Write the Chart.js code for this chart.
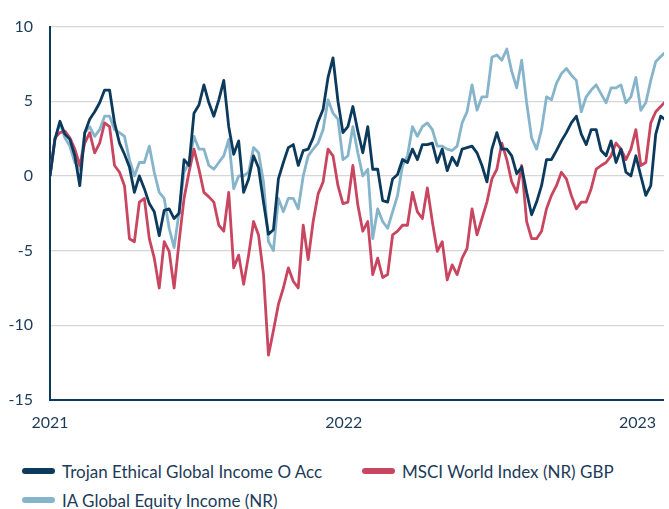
<!DOCTYPE html>
<html>
<head>
<meta charset="utf-8">
<title>Cumulative Performance</title>
<script src="https://cdn.jsdelivr.net/npm/chart.js"></script>
<style>
    body { margin: 0; background: #fff; font-family: Lato, sans-serif; }
    .wrap { position: relative; width: 669px; height: 509px; }
    .legend { position: absolute; left: 22px; top: 460px; display: grid; grid-template-columns: 340px auto; row-gap: 7px; color: #1c3b5a; font-size: 17px; }
    .item { display: flex; align-items: center; height: 22px; white-space: nowrap; }
    .swatch { width: 33px; height: 6px; border-radius: 3px; margin-right: 7px; }
</style>
</head>
<body>
<div class="wrap">
    <canvas id="perfChart" width="669" height="445"></canvas>
    <div class="legend" id="legend"></div>
</div>

<script>
    const seriesNames = ['Trojan Ethical Global Income O Acc', 'MSCI World Index (NR) GBP', 'IA Global Equity Income (NR)'];
    const seriesColors = ['#0b3a5d', '#c8465f', '#86b5cb'];

    // cumulative % return, one reading roughly every 6 days from 1 Jan 2021
    const trojan = [
        0.0, 2.45, 3.66, 2.8, 2.45, 1.35, -0.65, 2.9, 3.8, 4.3, 4.9, 5.75, 5.75, 3.55, 2.2, 1.45, 0.6, -1.1, 0.0, -0.85, -1.85, -2.4, -4.0, -2.3,
        -2.2, -2.85, -2.5, 1.1, 0.7, 4.2, 4.75, 6.1, 4.9, 4.0, 5.1, 6.4, 3.3, 1.45, 2.35, -1.1, -0.2, 1.35, 0.55, -1.75, -3.9, -3.6, -0.2, 0.9, 1.9,
        2.1, 0.7, 1.7, 1.8, 2.55, 3.65, 4.45, 6.6, 7.9, 5.0, 2.9, 3.3, 4.65, 3.0, 1.55, 3.3, 0.45, 0.45, -1.65, -1.75, -0.2, 0.1, 1.1, 0.9, 1.8,
        1.1, 2.1, 2.1, 2.2, 0.9, 1.8, 0.35, 1.25, 0.7, 1.8, 1.9, 2.0, 1.55, 0.7, -0.4, 1.8, 2.9, 1.8, 1.8, 1.35, 0.15, 0.6, -1.1, -2.6, -1.75,
        -0.65, 1.1, 1.1, 1.7, 2.35, 2.9, 3.55, 4.0, 2.8, 2.1, 3.1, 3.1, 1.7, 1.35, 2.35, 0.9, 1.8, 0.25, 0.0, 1.35, 0.0, -1.3, -0.65, 2.8, 4.0, 3.75
    ];
    const msci = [
        0.0, 2.55, 2.9, 3.0, 2.55, 1.8, 0.7, 2.2, 2.9, 1.55, 2.2, 3.55, 3.3, 0.7, 0.25, -0.65, -4.2, -4.4, -1.75, -1.5, -4.2, -5.5, -7.5, -4.4,
        -5.05, -7.5, -4.4, -1.5, 0.25, 1.8, 0.45, -1.1, -1.4, -1.75, -3.3, -3.7, -1.1, -6.15, -5.3, -7.25, -5.3, -3.05, -3.95, -6.6, -12.0, -10.35, -8.6, -7.5, -6.15,
        -7.05, -7.5, -3.3, -5.6, -3.05, -1.2, -0.4, 1.8, 1.35, -0.65, -1.85, -1.75, 0.7, -1.95, -3.7, -3.05, -6.6, -5.5, -6.8, -6.6, -3.95, -3.7, -3.3, -3.3, -1.1,
        -2.4, -2.85, -0.8, -3.05, -5.05, -4.4, -6.95, -5.95, -6.6, -5.5, -4.85, -2.2, -3.95, -2.85, -1.75, -0.2, 0.45, 2.2, 1.1, -0.4, -1.1, 0.7, -3.05, -4.2, -4.2,
        -3.7, -2.2, -1.3, -0.65, 0.25, -0.2, -1.3, -2.2, -1.75, -1.75, -0.85, 0.45, 0.7, 0.9, 1.35, 2.2, 1.8, 1.1, 1.8, 3.1, 0.7, 0.9, 3.55, 4.3, 4.65, 5.0
    ];
    const iaIncome = [
        0.0, 2.45, 3.55, 2.55, 2.0, 0.9, 0.45, 2.9, 3.3, 2.65, 3.1, 4.0, 4.0, 3.1, 2.9, 2.65, 1.1, 0.0, 0.9, 0.9, 2.0, 0.25, -1.1, -1.5,
        -3.5, -4.8, -2.4, 0.25, 0.9, 2.65, 1.8, 1.8, 0.7, 0.45, 0.9, 1.35, 2.45, -0.85, 0.0, 0.0, 0.25, 1.9, 1.55, -0.4, -4.4, -5.0, -1.5, -2.4, -1.5,
        -1.5, -2.2, 0.0, 1.35, 1.8, 2.2, 3.1, 5.1, 4.2, 3.8, 1.1, 1.35, 3.3, 1.55, 0.0, 0.45, -4.2, -2.2, -3.05, -3.5, -2.4, -1.3, 0.7, 1.35, 3.3,
        2.65, 3.3, 3.55, 3.1, 2.0, 2.0, 1.8, 1.7, 2.0, 3.55, 4.3, 6.1, 4.4, 5.3, 5.3, 7.95, 8.1, 7.75, 8.5, 7.0, 5.9, 7.75, 4.9, 2.55, 1.8,
        3.1, 5.3, 5.1, 6.2, 6.85, 7.2, 6.75, 6.4, 4.3, 5.3, 5.75, 6.1, 5.5, 4.9, 5.9, 5.9, 6.1, 4.9, 5.3, 6.6, 4.4, 4.9, 6.4, 7.65, 8.0, 8.3
    ];

    const yearLabels = ['2021', '2022', '2023'];
    const yearDays = [0, 365, 730];
    const dayStep = 6.17;
    const lastDay = 763;

    const textColor = '#1c3b5a';
    const axisColor = '#0b3a5d';

    function toPoints(values) {
        return values.map((v, i) => ({ x: i * dayStep, y: v }));
    }

    const allSeries = [trojan, msci, iaIncome];

    const ctx = document.getElementById('perfChart').getContext('2d');
    const chart = new Chart(ctx, {
        type: 'line',
        data: {
            datasets: allSeries.map((values, i) => ({
                label: seriesNames[i],
                data: toPoints(values),
                borderColor: seriesColors[i],
                backgroundColor: seriesColors[i],
                borderWidth: 2.8,
                borderJoinStyle: 'round',
                pointRadius: 0,
                tension: 0
            }))
        },
        options: {
            responsive: false,
            animation: false,
            devicePixelRatio: 1,
            layout: { padding: { top: 22, right: 0, bottom: 0, left: 0 } },
            plugins: {
                legend: { display: false },
                tooltip: { enabled: false }
            },
            scales: {
                x: {
                    type: 'linear',
                    min: 0,
                    max: lastDay,
                    afterBuildTicks: (scale) => { scale.ticks = yearDays.map(v => ({ value: v })); },
                    afterFit: (scale) => { scale.height = 45; },
                    grid: { display: false, drawTicks: false },
                    border: { display: true, color: axisColor, width: 2 },
                    ticks: {
                        autoSkip: false,
                        maxRotation: 0,
                        padding: 13,
                        color: textColor,
                        font: { family: 'Lato', size: 16 },
                        callback: (v) => yearLabels[yearDays.indexOf(v)]
                    }
                },
                y: {
                    min: -15,
                    max: 10,
                    afterFit: (scale) => { scale.width = 50; },
                    grid: { color: '#d6d6d6', lineWidth: 1.3, drawTicks: false },
                    border: { display: true, color: axisColor, width: 2 },
                    ticks: {
                        stepSize: 5,
                        padding: 17,
                        color: textColor,
                        font: { family: 'Lato', size: 16 }
                    }
                }
            }
        }
    });

    const legend = document.getElementById('legend');
    seriesNames.forEach((name, i) => {
        const item = document.createElement('div');
        item.className = 'item';
        item.innerHTML = `<span class="swatch" style="background:${seriesColors[i]}"></span><span>${name}</span>`;
        legend.appendChild(item);
    });
</script>
</body>
</html>
